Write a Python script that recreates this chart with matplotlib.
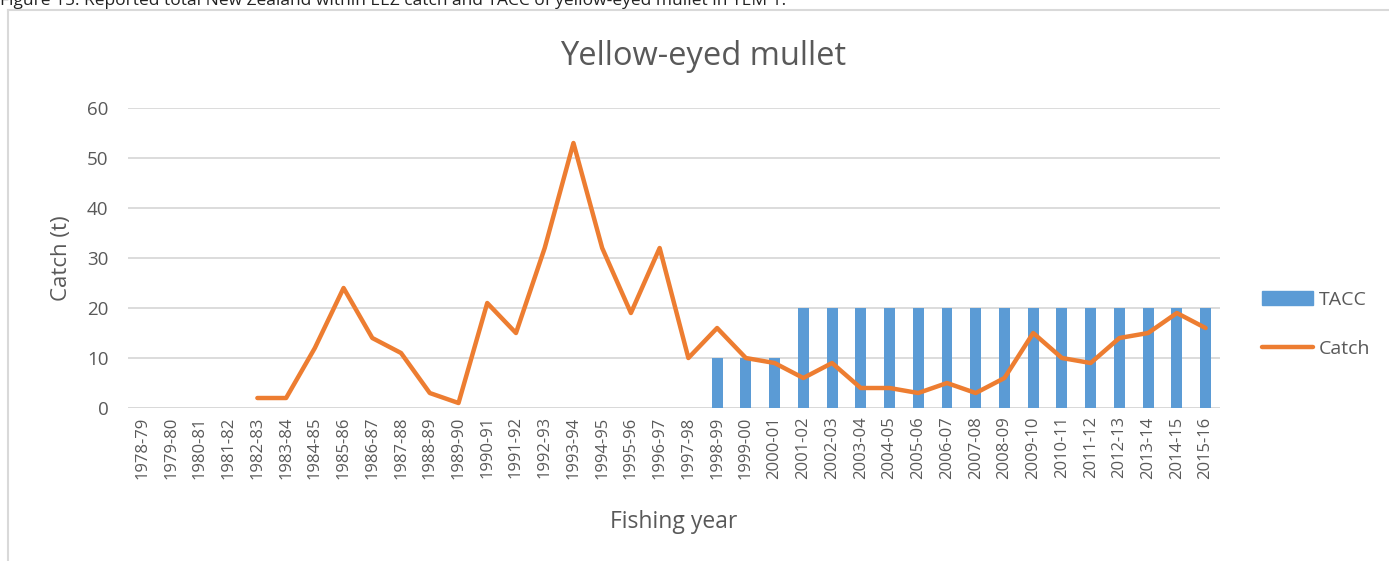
import numpy as np
import matplotlib as mpl
mpl.use("Agg")
import matplotlib.pyplot as plt
from matplotlib.lines import Line2D

years = ["1978-79", "1979-80", "1980-81", "1981-82", "1982-83", "1983-84",
         "1984-85", "1985-86", "1986-87", "1987-88", "1988-89", "1989-90",
         "1990-91", "1991-92", "1992-93", "1993-94", "1994-95", "1995-96",
         "1996-97", "1997-98", "1998-99", "1999-00", "2000-01", "2001-02",
         "2002-03", "2003-04", "2004-05", "2005-06", "2006-07", "2007-08",
         "2008-09", "2009-10", "2010-11", "2011-12", "2012-13", "2013-14",
         "2014-15", "2015-16"]

# catch (t); no catch reported before 1982-83
catch = [np.nan, np.nan, np.nan, np.nan, 2, 2, 12, 24, 14, 11, 3, 1,
         21, 15, 32, 53, 32, 19, 32, 10, 16, 10, 9, 6, 9, 4, 4, 3, 5, 3,
         6, 15, 10, 9, 14, 15, 19, 16]

# TACC (t); introduced 1998-99
tacc = [0] * 20 + [10, 10, 10] + [20] * 15

blue = "#5B9BD5"
orange = "#ED7D31"
grey = "#595959"

plt.rcParams['font.family'] = ['Open Sans', 'DejaVu Sans']

fig = plt.figure(figsize=(13.89, 5.61), dpi=100)
ax = fig.add_axes([0.0922, 0.2727, 0.7861, 0.5348])

x = np.arange(len(years))
ax.bar(x, tacc, width=0.38, color=blue, zorder=2)
ax.plot(x, catch, color=orange, lw=3.2, solid_capstyle='round',
        solid_joinstyle='round', zorder=3)

ax.set_xlim(-0.5, len(years) - 0.5)
ax.set_ylim(0, 60)
ax.set_yticks(range(0, 61, 10))
ax.yaxis.grid(True, color="#D9D9D9", lw=1.3, zorder=0)
ax.set_axisbelow(True)
for s in ax.spines.values():
    s.set_visible(False)
ax.axhline(0, color="#D9D9D9", lw=1.3, zorder=1)

ax.set_xticks(x)
ax.set_xticklabels(years, rotation=90, fontsize=12, color=grey)
ax.tick_params(axis='both', length=0, colors=grey)
ax.tick_params(axis='y', labelsize=13.5, pad=14)
ax.tick_params(axis='x', pad=6)

ax.set_ylabel("Catch (t)", fontsize=16, color=grey)
ax.yaxis.set_label_coords(-0.051, 0.5)
ax.set_xlabel("Fishing year", fontsize=16.5, color=grey, labelpad=22)
ax.set_title("Yellow-eyed mullet", fontsize=23.5, color=grey, pad=31, x=0.5266)

handles = [mpl.patches.Patch(color=blue),
           Line2D([0], [0], color=orange, lw=3.2, solid_capstyle='round')]
fig.legend(handles, ["TACC", "Catch"], loc='center left',
           bbox_to_anchor=(0.896, 0.422), frameon=False, fontsize=14,
           labelcolor=grey, handlelength=2.6, handleheight=0.7,
           handletextpad=0.3, labelspacing=1.6)

# page frame and clipped caption from the report
fig.add_artist(Line2D([0.0058, 0.0058], [0, 0.982], color="#D9D9D9", lw=1.5))
fig.add_artist(Line2D([0.0058, 1], [0.982, 0.982], color="#D9D9D9", lw=1.5))
fig.text(0.0, 0.998, "Figure 15: Reported total New Zealand within EEZ catch and TACC of "
         "yellow-eyed mullet in YEM 1.", fontsize=12.5, color="#222222",
         va='center', ha='left')

fig.savefig("out.png", dpi=100)
